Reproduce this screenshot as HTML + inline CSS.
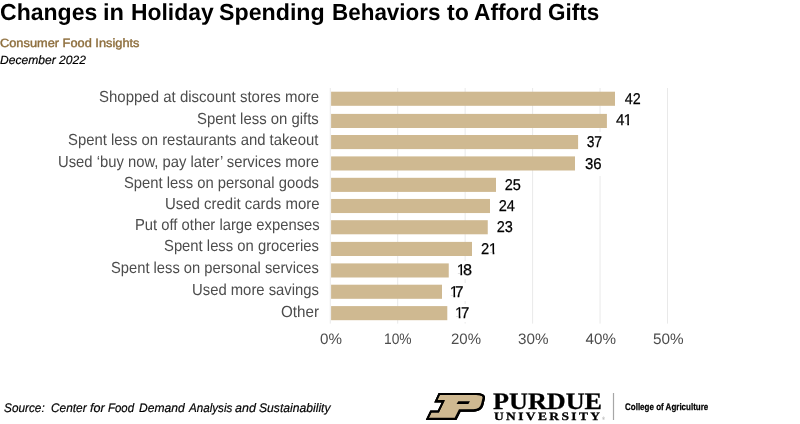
<!DOCTYPE html>
<html lang="en">
<head>
<meta charset="utf-8">
<title>Changes in Holiday Spending Behaviors to Afford Gifts</title>
<style>
html,body{margin:0;padding:0;background:#fff;}
body{width:800px;height:424px;position:relative;overflow:hidden;font-family:"Liberation Sans",sans-serif;}
.t{position:absolute;white-space:nowrap;line-height:1;text-rendering:geometricPrecision;transform-origin:0 0;}
.chart{position:absolute;left:0;top:0;}
.title{font-family:"Liberation Sans",sans-serif;font-size:23.2px;font-weight:bold;color:#000;}
.sub{font-family:"Liberation Sans",sans-serif;font-size:12px;color:#8e6f3e;-webkit-text-stroke:0.4px #8e6f3e;}
.date{font-family:"Liberation Sans",sans-serif;font-size:12px;font-style:italic;color:#000;-webkit-text-stroke:0.2px #000;}
.lab{font-family:"Liberation Sans",sans-serif;font-size:16px;color:#4d4d4d;}
.val{font-family:"Liberation Sans",sans-serif;font-size:15.6px;color:#000;padding:3px 3px 3px 3px;-webkit-text-stroke:0.25px #000;}
.vd{font-family:"Liberation Sans",sans-serif;font-size:15.6px;color:#000;-webkit-text-stroke:0.25px #000;}
.tick{font-family:"Liberation Sans",sans-serif;font-size:15.2px;color:#4d4d4d;}
.src{font-family:"Liberation Sans",sans-serif;font-size:12.4px;font-style:italic;color:#000;-webkit-text-stroke:0.2px #000;}
.pu{font-family:"Liberation Serif",serif;font-size:23.6px;font-weight:bold;color:#000;-webkit-text-stroke:0.3px #000;}
.un{font-family:"Liberation Serif",serif;font-size:11.3px;font-weight:bold;color:#000;letter-spacing:2.0px;-webkit-text-stroke:0.3px #000;}
.coa{font-family:"Liberation Sans",sans-serif;font-size:9.6px;font-weight:bold;color:#000;-webkit-text-stroke:0.25px #000;}
.reg{font-family:"Liberation Sans",sans-serif;font-size:4.5px;color:#999;}
.val{background:#fff;}
.vbg{position:absolute;background:#fff;}
.vgrp{position:absolute;left:0;top:0;margin:0;padding:0;font-size:0;line-height:0;font-weight:normal;}
</style>
</head>
<body>
<svg class="chart" width="800" height="424" viewBox="0 0 800 424">
<g stroke="#e9e9e9" stroke-width="1">
<line x1="330.25" y1="88" x2="330.25" y2="323.6"/>
<line x1="397.70" y1="88" x2="397.70" y2="323.6"/>
<line x1="465.15" y1="88" x2="465.15" y2="323.6"/>
<line x1="532.60" y1="88" x2="532.60" y2="323.6"/>
<line x1="600.05" y1="88" x2="600.05" y2="323.6"/>
<line x1="667.50" y1="88" x2="667.50" y2="323.6"/>
</g>
<g fill="#cfb991">
<rect x="331.1" y="91.70" width="283.90" height="14.1"/>
<rect x="331.1" y="113.90" width="275.80" height="14.1"/>
<rect x="331.1" y="135.00" width="247.00" height="14.1"/>
<rect x="331.1" y="156.40" width="243.90" height="14.1"/>
<rect x="331.1" y="177.80" width="164.90" height="14.1"/>
<rect x="331.1" y="198.95" width="158.90" height="14.1"/>
<rect x="331.1" y="220.20" width="156.65" height="14.1"/>
<rect x="331.1" y="241.90" width="140.90" height="14.1"/>
<rect x="331.1" y="263.40" width="117.65" height="14.1"/>
<rect x="331.1" y="284.70" width="110.90" height="14.1"/>
<rect x="331.1" y="306.10" width="116.20" height="14.1"/>
</g>
<defs><clipPath id="pclip"><path d="M190,58 L620,58 C690,58 730,80 718,125 L704,187 C692,244 652,270 592,270 L441,272 L393,367 L42,367 L95,258 L180,258 L225,165 L140,165 Z"/></clipPath></defs>
<g transform="translate(422,388) scale(0.0875)">
<g clip-path="url(#pclip)">
<path d="M190,58 L620,58 C690,58 730,80 718,125 L704,187 C692,244 652,270 592,270 L441,272 L393,367 L42,367 L95,258 L180,258 L225,165 L140,165 Z" fill="#cfb991" stroke="#000" stroke-width="44" stroke-linejoin="miter"/>
<path transform="translate(-3,-3)" d="M190,58 L620,58 C690,58 730,80 718,125 L704,187 C692,244 652,270 592,270 L441,272 L393,367 L42,367 L95,258 L180,258 L225,165 L140,165 Z" fill="none" stroke="#000" stroke-width="50" stroke-linejoin="miter"/>
</g>
<path d="M415,150 L548,150 L530,182 L395,182 Z" fill="#000"/>
</g>
<line x1="613.5" y1="393" x2="613.5" y2="420" stroke="#a6a6a6" stroke-width="1.2"/>
</svg>
<div class="vbg" style="left:613.00px;top:110.50px;width:18.75px;height:18px"></div>
<div class="vbg" style="left:478.90px;top:239.50px;width:18.20px;height:18px"></div>
<div class="vbg" style="left:455.10px;top:260.50px;width:19.20px;height:18px"></div>
<div class="vbg" style="left:448.15px;top:282.50px;width:18.05px;height:18px"></div>
<div class="vbg" style="left:453.40px;top:303.50px;width:18.10px;height:18px"></div>
<h1 class="vgrp"><span class="t title" style="left:0.41px;top:1.40px;transform:scaleX(0.9937)">Changes</span> <span class="t title" style="left:103.37px;top:1.40px;transform:scaleX(1.0197)">in</span> <span class="t title" style="left:130.52px;top:1.40px;transform:scaleX(0.9866)">Holiday</span> <span class="t title" style="left:219.25px;top:1.40px;transform:scaleX(1.0005)">Spending</span> <span class="t title" style="left:331.55px;top:1.40px;transform:scaleX(0.9677)">Behaviors</span> <span class="t title" style="left:446.65px;top:1.40px;transform:scaleX(0.9976)">to</span> <span class="t title" style="left:473.77px;top:1.40px;transform:scaleX(0.9799)">Afford</span> <span class="t title" style="left:548.03px;top:1.40px;transform:scaleX(0.9686)">Gifts</span></h1>
<div class="t sub" style="left:0.07px;top:36.90px;transform:scaleX(1.0669)">Consumer Food Insights</div>
<div class="t date" style="left:0.15px;top:54.00px;transform:scaleX(1.0059)">December 2022</div>
<div class="t lab" style="left:99.30px;top:90.00px;transform:scaleX(0.9372)">Shopped at discount stores more</div>
<div class="t val" style="left:621.62px;top:89.00px;transform:scaleX(0.9182)">42</div>
<div class="t lab" style="left:197.30px;top:112.00px;transform:scaleX(0.9313)">Spent less on gifts</div>
<div class="vgrp"><span class="t vd" style="left:615.76px;top:113.00px;transform:scaleX(0.9688)">4</span><span class="t vd" style="left:623.50px;top:113.00px;transform:scaleX(1.0000);clip-path:polygon(0 0,5.5px 0,5.5px 100%,3.8px 100%,3.8px 10.3px,0 10.3px)">1</span></div>
<div class="t lab" style="left:68.30px;top:133.00px;transform:scaleX(0.9287)">Spent less on restaurants and takeout</div>
<div class="t val" style="left:584.40px;top:132.00px;transform:scaleX(0.8862)">37</div>
<div class="t lab" style="left:58.24px;top:155.00px;transform:scaleX(0.9257)">Used ‘buy now, pay later’ services more</div>
<div class="t val" style="left:581.64px;top:154.00px;transform:scaleX(0.9600)">36</div>
<div class="t lab" style="left:124.11px;top:176.00px;transform:scaleX(0.9251)">Spent less on personal goods</div>
<div class="t val" style="left:502.01px;top:175.00px;transform:scaleX(0.9300)">25</div>
<div class="t lab" style="left:164.63px;top:197.00px;transform:scaleX(0.9346)">Used credit cards more</div>
<div class="t val" style="left:496.01px;top:196.00px;transform:scaleX(0.9300)">24</div>
<div class="t lab" style="left:134.50px;top:218.00px;transform:scaleX(0.9240)">Put off other large expenses</div>
<div class="t val" style="left:493.76px;top:217.00px;transform:scaleX(0.9300)">23</div>
<div class="t lab" style="left:164.41px;top:239.00px;transform:scaleX(0.9261)">Spent less on groceries</div>
<div class="vgrp"><span class="t vd" style="left:481.19px;top:242.00px;transform:scaleX(0.9448)">2</span><span class="t vd" style="left:488.85px;top:242.00px;transform:scaleX(1.0000);clip-path:polygon(0 0,5.5px 0,5.5px 100%,3.8px 100%,3.8px 10.3px,0 10.3px)">1</span></div>
<div class="t lab" style="left:111.31px;top:261.00px;transform:scaleX(0.9203)">Spent less on personal services</div>
<div class="vgrp"><span class="t vd" style="left:456.65px;top:263.00px;transform:scaleX(1.0000);clip-path:polygon(0 0,5.5px 0,5.5px 100%,3.8px 100%,3.8px 10.3px,0 10.3px)">1</span><span class="t vd" style="left:462.98px;top:263.00px;transform:scaleX(1.0400)">8</span></div>
<div class="t lab" style="left:192.24px;top:283.00px;transform:scaleX(0.9274)">Used more savings</div>
<div class="vgrp"><span class="t vd" style="left:449.70px;top:285.00px;transform:scaleX(1.0000);clip-path:polygon(0 0,5.5px 0,5.5px 100%,3.8px 100%,3.8px 10.3px,0 10.3px)">1</span><span class="t vd" style="left:455.37px;top:285.00px;transform:scaleX(0.9793)">7</span></div>
<div class="t lab" style="left:280.89px;top:305.00px;transform:scaleX(0.9487)">Other</div>
<div class="vgrp"><span class="t vd" style="left:454.95px;top:306.00px;transform:scaleX(1.0000);clip-path:polygon(0 0,5.5px 0,5.5px 100%,3.8px 100%,3.8px 10.3px,0 10.3px)">1</span><span class="t vd" style="left:460.83px;top:306.00px;transform:scaleX(0.9586)">7</span></div>
<div class="t tick" style="left:319.60px;top:331.90px;transform:scaleX(0.9976)">0%</div>
<div class="t tick" style="left:383.56px;top:331.90px;transform:scaleX(0.9088)">10%</div>
<div class="t tick" style="left:450.56px;top:331.90px;transform:scaleX(0.9862)">20%</div>
<div class="t tick" style="left:517.80px;top:331.90px;transform:scaleX(1.0017)">30%</div>
<div class="t tick" style="left:585.55px;top:331.90px;transform:scaleX(1.0000)">40%</div>
<div class="t tick" style="left:652.84px;top:331.90px;transform:scaleX(1.0069)">50%</div>
<div class="vgrp"><span class="t src" style="left:3.51px;top:401.80px;transform:scaleX(0.9536)">Source:</span> <span class="t src" style="left:51.27px;top:401.80px;transform:scaleX(0.9570)">Center</span> <span class="t src" style="left:89.75px;top:401.80px;transform:scaleX(1.0169)">for</span> <span class="t src" style="left:108.47px;top:401.80px;transform:scaleX(0.9228)">Food</span> <span class="t src" style="left:139.26px;top:401.80px;transform:scaleX(0.9745)">Demand</span> <span class="t src" style="left:188.70px;top:401.80px;transform:scaleX(0.9390)">Analysis</span> <span class="t src" style="left:235.05px;top:401.80px;transform:scaleX(1.0072)">and</span> <span class="t src" style="left:259.06px;top:401.80px;transform:scaleX(0.9796)">Sustainability</span></div>
<div class="t pu" style="left:493.02px;top:391.00px;transform:scaleX(1.1093)">PURDUE</div>
<div class="t un" style="left:493.80px;top:411.60px;transform:scaleX(1.1921)">UNIVERSITY</div>
<div class="t coa" style="left:624.79px;top:402.90px;transform:scaleX(0.8342)">College of Agriculture</div>
<div class="t reg" style="left:601.60px;top:416.80px;transform:scaleX(0.9231)">&reg;</div>
</body>
</html>
